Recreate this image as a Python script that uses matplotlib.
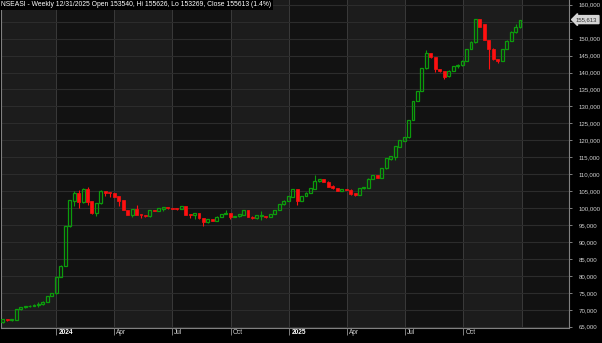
import numpy as np
import pandas as pd
import matplotlib
matplotlib.use("Agg")
import matplotlib.pyplot as plt
import matplotlib.dates as mdates
import matplotlib.transforms as mtransforms

# weekly bars, NSEASI
first_week = "2023-10-09"

open_ = [66300, 67100, 66900, 67100, 70150, 70700, 71000, 71100, 71500, 71600,
         72400, 74100, 74900, 79800, 83000, 94600, 102200, 104400, 101700, 105600,
         102000, 98600, 101400, 104950, 104700, 104500, 103500, 102300, 99400, 98100,
         99600, 98200, 97900, 97600, 99400, 99100, 99700, 100200, 99900, 99800,
         99700, 100600, 98200, 97900, 98600, 97100, 95800, 96700, 96300, 97500,
         98300, 98500, 97500, 97600, 98000, 99400, 97500, 97100, 97700, 97600,
         97400, 98300, 99400, 101100, 102200, 103400, 105500, 102200, 103600, 104600,
         105700, 108000, 108500, 107800, 106600, 105800, 105000, 105600, 105400, 104500,
         104000, 105800, 105900, 108600, 109700, 108900, 111700, 114500, 115200, 118100,
         119800, 120900, 126100, 131600, 134500, 141200, 145700, 144500, 141000, 140400,
         138900, 140500, 141900, 142100, 143500, 146900, 148900, 155700, 154200, 149600,
         147000, 143900, 143400, 146900, 149300, 151900, 153540]
high = [67400, 67200, 67200, 70300, 70900, 71200, 71300, 71700, 72300, 72500,
        74200, 75000, 80000, 83200, 94800, 102500, 105000, 105400, 106000, 106200,
        102200, 101600, 105200, 105100, 104800, 104600, 103600, 102400, 99500, 99700,
        101000, 98300, 98000, 99500, 99500, 100000, 100300, 100300, 100000, 99900,
        100700, 100700, 98300, 98600, 98700, 97200, 96800, 96800, 97600, 98400,
        99300, 98600, 97800, 98400, 99500, 99500, 97600, 98000, 99000, 97700,
        98400, 99500, 101300, 102300, 103700, 105700, 105600, 103700, 104700, 105900,
        109700, 108700, 108600, 107900, 106700, 105900, 105700, 105700, 105500, 104600,
        106000, 106200, 108800, 109900, 109800, 111800, 114800, 115500, 118400, 120200,
        121000, 126100, 131700, 134600, 141300, 146600, 145800, 144600, 141100, 140500,
        140600, 142000, 142400, 143600, 147000, 149200, 155800, 155800, 154300, 149700,
        147100, 144000, 147000, 149500, 152100, 154200, 155626]
low = [66200, 66800, 66800, 67000, 70000, 70600, 70900, 71000, 70900, 71500,
       72300, 74000, 74800, 79700, 82900, 94500, 100600, 99900, 101500, 100900,
       98400, 97700, 101200, 103500, 103200, 103200, 100500, 99300, 98000, 97500,
       97900, 97000, 97400, 97500, 99000, 99000, 99000, 99800, 99600, 99500,
       99600, 98000, 97200, 96900, 96900, 94800, 95700, 96100, 96200, 97400,
       98200, 96900, 97400, 97500, 97900, 97300, 96700, 96700, 96500, 97200,
       97300, 98200, 99300, 101000, 102100, 103300, 101000, 102100, 103500, 104500,
       105600, 107800, 107700, 106200, 105700, 104900, 104900, 105200, 104000, 103700,
       103900, 105700, 105800, 108500, 108800, 108800, 111600, 114200, 114300, 118000,
       119700, 120800, 126000, 131500, 134400, 141100, 144300, 140200, 140200, 138100,
       138800, 140400, 141300, 142000, 143400, 146800, 148800, 153400, 149500, 141000,
       143800, 142900, 143300, 146800, 149200, 151800, 153269]
close = [67200, 66900, 67100, 70150, 70700, 71000, 71100, 71500, 71600, 72400,
         74100, 74900, 79800, 83000, 94600, 102300, 104400, 101800, 105600, 101900,
         98600, 101400, 104950, 104500, 104400, 103400, 102200, 99400, 98100, 99600,
         98100, 97900, 97600, 99400, 99100, 99900, 100200, 99900, 99700, 99700,
         100600, 98100, 97900, 98500, 97000, 95800, 96700, 96300, 97500, 98300,
         98600, 97500, 97600, 98300, 99400, 97500, 97100, 97900, 97900, 97300,
         98300, 99400, 101200, 102200, 103600, 105500, 102200, 103600, 104600, 105800,
         108000, 108500, 107800, 106300, 105800, 105000, 105600, 105300, 104300, 104000,
         105900, 106100, 108700, 109700, 108900, 111700, 114700, 115400, 118300, 120100,
         120900, 126000, 131600, 134500, 141200, 145700, 144500, 140900, 140400, 138800,
         140500, 141900, 142200, 143500, 146900, 149100, 155700, 153500, 149600, 147000,
         143900, 143500, 146900, 149400, 152000, 153500, 155613]

quarter_ticks = ["2024-01-01", "2024-04-01", "2024-07-01", "2024-10-01",
                 "2025-01-01", "2025-04-01", "2025-07-01", "2025-10-01"]
quarter_labels = ["2024", "Apr", "Jul", "Oct", "2025", "Apr", "Jul", "Oct"]
price_ticks = list(range(65000, 160001, 5000))
title = "NSEASI - Weekly 12/31/2025 Open 153540, Hi 155626, Lo 153269, Close 155613 (1.4%)"

dates = pd.date_range(first_week, periods=len(close), freq="7D")
x = mdates.date2num(dates)
o = np.array(open_, float)
c = np.array(close, float)
h = np.array(high, float)
l = np.array(low, float)

plt.rcParams["font.family"] = ["Liberation Sans", "DejaVu Sans"]

fig = plt.figure(figsize=(6.02, 3.43), dpi=100, facecolor="black")
ax = fig.add_axes([1 / 602, 15 / 343, 568 / 602, 328 / 343])

x0 = x[0] - 2.8
x1 = x0 + 568 / 0.637
ax.set_xlim(x0, x1)
ax.set_ylim(64630, 161390)

# alternating quarter bands
bands = pd.date_range("2023-10-01", "2026-07-01", freq="QS")
for k in range(len(bands) - 1):
    a, b = mdates.date2num(bands[k]), mdates.date2num(bands[k + 1])
    ax.axvspan(a, b, color="#1c1c1c" if k % 2 == 0 else "#121212", lw=0, zorder=0)
    if k > 0:
        ax.axvline(a, color="#3a3a3a", lw=0.7, zorder=0.5)
for p in price_ticks:
    ax.axhline(p, color="#2c2c2c", lw=0.8, zorder=0.5)

green = "#0c9c0c"
red = "#ff1010"
w = 4.6
up = c >= o
minh = 250
for i in range(len(x)):
    col = green if up[i] else red
    bot = min(o[i], c[i])
    top = max(o[i], c[i])
    hgt = max(top - bot, minh)
    ax.vlines(x[i], l[i], bot, color=col, lw=0.8, zorder=2)
    ax.vlines(x[i], bot + hgt, h[i], color=col, lw=0.8, zorder=2)
    if up[i]:
        ax.bar(x[i], hgt, bottom=bot, width=w, facecolor="none",
               edgecolor=col, lw=0.9, zorder=3)
    else:
        ax.bar(x[i], hgt, bottom=bot, width=w, facecolor=col,
               edgecolor=col, lw=0.5, zorder=3)

ax.spines["top"].set_visible(False)
for s in ["left", "right", "bottom"]:
    ax.spines[s].set_color("#808080")
    ax.spines[s].set_linewidth(0.8)

# 155,000 label is covered by the last-price marker in the original
ax.yaxis.tick_right()
ax.set_yticks(price_ticks)
ax.set_yticklabels(["" if p == 155000 else f"{p:,}" for p in price_ticks])
ax.tick_params(axis="y", colors="#808080", labelcolor="#d0d0d0",
               length=2.5, width=0.7, pad=4.3, labelsize=4.4)

ax.set_xticks(mdates.date2num(pd.to_datetime(quarter_ticks)))
ax.set_xticklabels(quarter_labels)
ax.tick_params(axis="x", colors="#808080", labelcolor="#d0d0d0",
               length=5, width=0.7, pad=-4.6, labelsize=4.7)
shift = mtransforms.ScaledTranslation(1.5 / 72, 0, fig.dpi_scale_trans)
for lab in ax.get_xticklabels():
    lab.set_horizontalalignment("left")
    lab.set_transform(lab.get_transform() + shift)
    if lab.get_text() in ("2024", "2025"):
        lab.set_color("white")
        lab.set_fontweight("bold")

# last price marker
ax.annotate(f"{close[-1]:,}", xy=(1.0, close[-1]),
            xycoords=("axes fraction", "data"),
            xytext=(5, 0), textcoords="offset points",
            ha="left", va="center", fontsize=4.3, color="#303030",
            bbox=dict(boxstyle="larrow,pad=0.25", fc="#d4d4d4", ec="#d4d4d4"),
            annotation_clip=False)

fig.text(1 / 602, 1 - 1 / 343, title, ha="left", va="top", fontsize=4.9,
         color="white", bbox=dict(facecolor="black", edgecolor="none", pad=1.2))

fig.savefig("out.png", dpi=100, facecolor="black")
